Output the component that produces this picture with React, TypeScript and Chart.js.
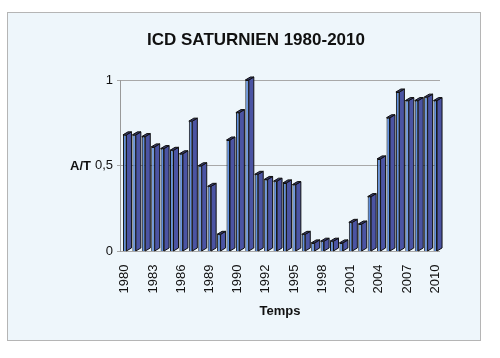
import { useEffect, useRef } from 'react';
import { Chart, registerables } from 'chart.js';

Chart.register(...registerables);

const title = 'ICD SATURNIEN 1980-2010';

const categories = [
  '1980', '1981', '1982', '1983', '1984', '1985', '1986', '1987', '1988', '1989',
  '1989', '1989', '1990', '1990', '1991', '1992', '1993', '1994', '1995', '1996',
  '1997', '1998', '1999', '2000', '2001', '2002', '2003', '2004', '2005', '2006',
  '2007', '2008', '2009', '2010',
];

const values = [
  0.68, 0.68, 0.67, 0.61, 0.6, 0.59, 0.57, 0.76, 0.5, 0.38,
  0.1, 0.65, 0.81, 1.0, 0.45, 0.42, 0.41, 0.4, 0.39, 0.1,
  0.05, 0.06, 0.06, 0.05, 0.17, 0.16, 0.32, 0.54, 0.78, 0.93,
  0.88, 0.88, 0.9, 0.88,
];

const yTicks = [0, 0.5, 1];

const FONT = "'Liberation Sans', Arial, Helvetica, sans-serif";

export default function App() {
  const ref = useRef<HTMLCanvasElement>(null);

  useEffect(() => {
    if (!ref.current) return;

    const frame = {
      id: 'frame',
      beforeDraw(chart: any) {
        const c = chart.ctx;
        c.save();
        c.fillStyle = '#ffffff';
        c.fillRect(0, 0, chart.width, chart.height);
        c.fillStyle = '#eef6fb';
        c.fillRect(7.5, 12.5, 473, 328);
        c.strokeStyle = '#b5b5b5';
        c.lineWidth = 1;
        c.strokeRect(7.5, 12.5, 473, 328);
        c.restore();
      },
    };

    const bars3d = {
      id: 'bars3d',
      afterDatasetsDraw(chart: any) {
        const meta = chart.getDatasetMeta(0);
        const c = chart.ctx;
        const dx = 5;
        const dy = 3;
        c.save();
        c.lineWidth = 1;
        c.strokeStyle = '#111';
        c.lineJoin = 'miter';
        meta.data.forEach((el: any) => {
          const { x, y, base, width } = el.getProps(['x', 'y', 'base', 'width'], true);
          const l = x - width / 2;
          const r = x + width / 2;
          c.beginPath();
          c.moveTo(r, y);
          c.lineTo(r + dx, y - dy);
          c.lineTo(r + dx, base - dy);
          c.lineTo(r, base);
          c.closePath();
          c.fillStyle = '#4b54a3';
          c.fill();
          c.stroke();
          c.beginPath();
          c.moveTo(l, y);
          c.lineTo(l + dx, y - dy);
          c.lineTo(r + dx, y - dy);
          c.lineTo(r, y);
          c.closePath();
          c.fillStyle = '#35386a';
          c.fill();
          c.stroke();
        });
        c.restore();
      },
      afterDraw(chart: any) {
        const c = chart.ctx;
        const yv = chart.scales.y.getPixelForValue(0.5);
        c.save();
        c.fillStyle = '#111';
        c.font = `bold 13px ${FONT}`;
        c.textAlign = 'left';
        c.textBaseline = 'middle';
        c.fillText('A/T', 70, yv + 1);
        c.font = `bold 17px ${FONT}`;
        c.textAlign = 'center';
        c.fillText(title, 256, 40);
        c.restore();
      },
    };

    const chart = new Chart(ref.current, {
      type: 'bar',
      data: {
        labels: categories,
        datasets: [
          {
            data: values,
            backgroundColor: '#5e8fe0',
            borderColor: '#111',
            borderWidth: 1,
            barPercentage: 0.37,
            categoryPercentage: 1,
          },
        ],
      },
      options: {
        responsive: false,
        animation: false,
        devicePixelRatio: 1,
        layout: { padding: { left: 0, right: 60, top: 80, bottom: 35 } },
        plugins: {
          legend: { display: false },
          tooltip: { enabled: false },
          title: { display: false },
        },
        scales: {
          x: {
            grid: { display: false },
            border: { display: false },
            ticks: {
              autoSkip: false,
              maxRotation: 90,
              minRotation: 90,
              padding: 5,
              font: { family: FONT, size: 13 },
              color: '#111',
              callback: (_v: any, i: number) => (i % 3 === 0 ? categories[i] : ''),
            },
            title: {
              display: true,
              text: 'Temps',
              font: { family: FONT, size: 13, weight: 'bold' },
              color: '#111',
              padding: { top: 5, bottom: 4 },
            },
          },
          y: {
            min: 0,
            max: 1,
            afterBuildTicks: (s: any) => {
              s.ticks = yTicks.map((v) => ({ value: v }));
            },
            afterFit: (s: any) => {
              s.width = 120;
            },
            grid: { color: '#a8a8a8', tickLength: 3 },
            border: { color: '#999' },
            ticks: {
              padding: 4,
              font: { family: FONT, size: 13 },
              color: '#111',
              callback: (v: any) => String(v).replace('.', ','),
            },
          },
        },
      },
      plugins: [frame, bars3d],
    } as any);

    return () => chart.destroy();
  }, []);

  return (
    <div style={{ position: 'fixed', left: 0, top: 0, width: 500, height: 358 }}>
      <canvas ref={ref} width={500} height={358} style={{ display: 'block' }} />
    </div>
  );
}
